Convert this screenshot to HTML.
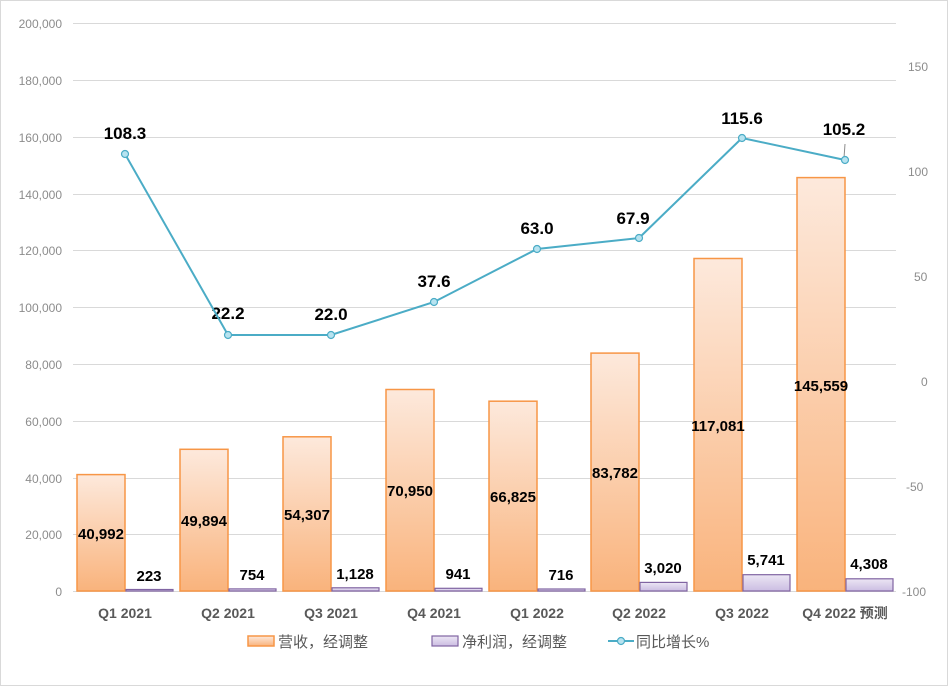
<!DOCTYPE html>
<html><head><meta charset="utf-8"><style>
body{margin:0;background:#fff;}
svg{display:block;font-family:"Liberation Sans","Noto Sans CJK SC",sans-serif;}
</style></head><body>
<svg width="948" height="686" viewBox="0 0 948 686">
<defs>
<linearGradient id="go" x1="0" y1="0" x2="0" y2="1"><stop offset="0" stop-color="#fde9dc"/><stop offset="1" stop-color="#f9b37c"/></linearGradient>
<linearGradient id="gp" x1="0" y1="0" x2="0" y2="1"><stop offset="0" stop-color="#ece6f4"/><stop offset="1" stop-color="#cbbde2"/></linearGradient>
</defs>
<rect x="0.5" y="0.5" width="947" height="685" fill="#fff" stroke="#d9d9d9"/>
<g stroke="#d9d9d9" stroke-width="1">
<line x1="73" x2="896" y1="23.5" y2="23.5"/><line x1="73" x2="896" y1="80.5" y2="80.5"/>
<line x1="73" x2="896" y1="137.5" y2="137.5"/><line x1="73" x2="896" y1="194.5" y2="194.5"/>
<line x1="73" x2="896" y1="250.5" y2="250.5"/><line x1="73" x2="896" y1="307.5" y2="307.5"/>
<line x1="73" x2="896" y1="364.5" y2="364.5"/><line x1="73" x2="896" y1="421.5" y2="421.5"/>
<line x1="73" x2="896" y1="478.5" y2="478.5"/><line x1="73" x2="896" y1="534.5" y2="534.5"/>
<line x1="73" x2="896" y1="591.5" y2="591.5"/>
</g>
<g fill="#8c8c8c" font-size="12" text-anchor="end">
<text x="62" y="28">200,000</text><text x="62" y="85">180,000</text><text x="62" y="142">160,000</text>
<text x="62" y="199">140,000</text><text x="62" y="255">120,000</text><text x="62" y="312">100,000</text>
<text x="62" y="369">80,000</text><text x="62" y="426">60,000</text><text x="62" y="483">40,000</text>
<text x="62" y="539">20,000</text><text x="62" y="596">0</text>
</g>
<g fill="#8c8c8c" font-size="12" text-anchor="start">
<text x="908" y="71">150</text><text x="908" y="176">100</text><text x="914" y="281">50</text>
<text x="921" y="386">0</text><text x="906" y="491">-50</text><text x="902" y="596">-100</text>
</g>
<g stroke="#f79646" stroke-width="1.5" fill="url(#go)">
<rect x="77" y="474.6" width="48" height="116.4"/>
<rect x="180" y="449.3" width="48" height="141.7"/>
<rect x="283" y="436.8" width="48" height="154.2"/>
<rect x="386" y="389.5" width="48" height="201.5"/>
<rect x="489" y="401.2" width="48" height="189.8"/>
<rect x="591" y="353.1" width="48" height="237.9"/>
<rect x="694" y="258.5" width="48" height="332.5"/>
<rect x="797" y="177.6" width="48" height="413.4"/>
</g>
<g stroke="#8064a2" stroke-width="1.2" fill="url(#gp)">
<rect x="126" y="589.5" width="47" height="1.5"/>
<rect x="229" y="588.9" width="47" height="2.1"/>
<rect x="332" y="587.8" width="47" height="3.2"/>
<rect x="435" y="588.3" width="47" height="2.7"/>
<rect x="538" y="589" width="47" height="2"/>
<rect x="640" y="582.4" width="47" height="8.6"/>
<rect x="743" y="574.7" width="47" height="16.3"/>
<rect x="846" y="578.8" width="47" height="12.2"/>
</g>
<g fill="#000" font-size="15" font-weight="bold" text-anchor="middle">
<text x="101" y="539">40,992</text><text x="204" y="526">49,894</text><text x="307" y="520">54,307</text>
<text x="410" y="496">70,950</text><text x="513" y="502">66,825</text><text x="615" y="478">83,782</text>
<text x="718" y="431">117,081</text><text x="821" y="391">145,559</text>
<text x="149" y="581">223</text><text x="252" y="580">754</text><text x="355" y="579">1,128</text>
<text x="458" y="579">941</text><text x="561" y="580">716</text><text x="663" y="573">3,020</text>
<text x="766" y="565">5,741</text><text x="869" y="569">4,308</text>
</g>
<g fill="#000" font-size="17" font-weight="bold" text-anchor="middle">
<text x="125" y="139">108.3</text><text x="228" y="319">22.2</text><text x="331" y="320">22.0</text>
<text x="434" y="287">37.6</text><text x="537" y="234">63.0</text><text x="633" y="224">67.9</text>
<text x="742" y="124">115.6</text><text x="844" y="135">105.2</text>
</g>
<line x1="845" y1="144" x2="844" y2="158" stroke="#8c8c8c" stroke-width="1"/>
<polyline fill="none" stroke="#4bacc6" stroke-width="2" points="125,154 228,335 331,335 434,302 537,249 639,238 742,138 845,160"/>
<g fill="#b7e3f0" stroke="#4bacc6" stroke-width="1.2">
<circle cx="125" cy="154" r="3.5"/><circle cx="228" cy="335" r="3.5"/><circle cx="331" cy="335" r="3.5"/>
<circle cx="434" cy="302" r="3.5"/><circle cx="537" cy="249" r="3.5"/><circle cx="639" cy="238" r="3.5"/>
<circle cx="742" cy="138" r="3.5"/><circle cx="845" cy="160" r="3.5"/>
</g>
<g fill="#595959" font-size="14" font-weight="bold" text-anchor="middle">
<text x="125" y="618">Q1 2021</text><text x="228" y="618">Q2 2021</text><text x="331" y="618">Q3 2021</text>
<text x="434" y="618">Q4 2021</text><text x="537" y="618">Q1 2022</text><text x="639" y="618">Q2 2022</text>
<text x="742" y="618">Q3 2022</text><text x="845" y="618">Q4 2022 预测</text>
</g>
<rect x="248" y="636" width="26" height="10" fill="url(#go)" stroke="#f79646" stroke-width="1.5"/>
<text x="278" y="647" fill="#595959" font-size="15">营收，经调整</text>
<rect x="432" y="636" width="26" height="10" fill="url(#gp)" stroke="#8064a2" stroke-width="1.2"/>
<text x="462" y="647" fill="#595959" font-size="15">净利润，经调整</text>
<line x1="608" y1="641" x2="634" y2="641" stroke="#4bacc6" stroke-width="2"/>
<circle cx="621" cy="641" r="3.5" fill="#b7e3f0" stroke="#4bacc6" stroke-width="1.2"/>
<text x="636" y="647" fill="#595959" font-size="15">同比增长%</text>
</svg>
</body></html>
